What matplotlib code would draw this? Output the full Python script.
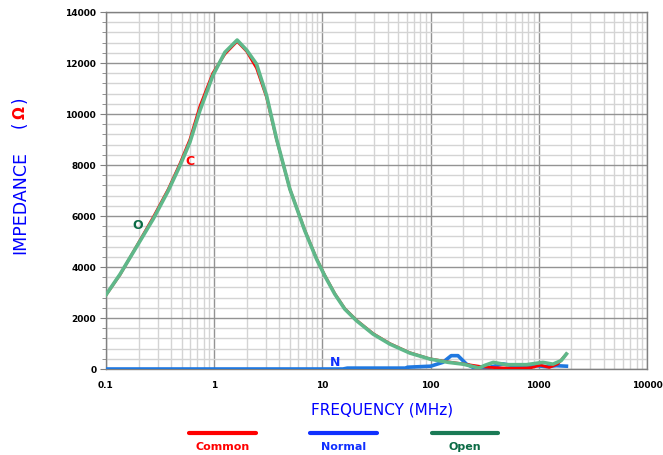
import matplotlib
matplotlib.use('Agg')
import matplotlib.pyplot as plt
from matplotlib.ticker import LogLocator, MultipleLocator, FixedLocator, NullFormatter

# data (MHz, ohm)
freq_open = [0.1, 0.135, 0.203, 0.273, 0.376, 0.482, 0.596, 0.737, 0.97, 1.256, 1.63,
             2.0, 2.46, 3.05, 3.77, 5.0, 6.88, 8.83, 10.5, 13.0, 16.1, 20.6, 29.4,
             41.9, 64.1, 98.2, 145, 200, 280, 320, 380, 500, 770, 1090, 1350, 1610, 1800]
z_open = [2910, 3720, 4970, 5880, 6990, 7970, 8890, 10130, 11500, 12420, 12900,
          12500, 11960, 10720, 9020, 7060, 5420, 4310, 3660, 2940, 2350, 1900, 1370,
          980, 627, 392, 262, 190, 40, 150, 260, 170, 170, 260, 190, 330, 590]

freq_common = [0.1, 0.135, 0.203, 0.273, 0.376, 0.482, 0.596, 0.737, 0.97, 1.256, 1.63,
               2.0, 2.46, 3.05, 3.77, 5.0, 6.88, 8.83, 10.5, 13.0, 16.1, 20.6, 29.4,
               41.9, 64.1, 98.2, 145, 200, 300, 400, 600, 850, 1040, 1250, 1500, 1800]
z_common = [2900, 3700, 5000, 5950, 7050, 8050, 9000, 10300, 11600, 12350, 12850,
            12450, 11800, 10650, 9000, 7060, 5440, 4330, 3680, 2960, 2370, 1920, 1390,
            1000, 640, 400, 280, 200, 90, 50, 30, 50, 150, 60, 200, 590]

freq_normal = [0.1, 1, 10, 15.5, 17, 60, 61, 100, 130, 155, 179, 214, 265, 351,
               466, 665, 948, 1174, 1452, 1800]
z_normal = [0, 0, 0, 0, 35, 35, 70, 110, 262, 523, 523, 196, 0, 65,
            200, 90, 130, 90, 130, 110]

series_names = ['Common', 'Normal', 'Open']

W, H = 663, 456
fig = plt.figure(figsize=(W / 100, H / 100), dpi=100)
ax = fig.add_axes([106 / W, 1 - 370 / H, 541 / W, 357 / H])

ax.plot(freq_normal, z_normal, color='#1f78e0', lw=2.6, zorder=3)
ax.plot(freq_common, z_common, color='#ff0000', lw=2.0, zorder=4)
ax.plot(freq_open, z_open, color='#5fb88a', lw=2.6, zorder=5)

ax.set_xscale('log')
ax.set_xlim(0.1, 10000)
ax.set_ylim(0, 14000)
ax.xaxis.set_major_locator(FixedLocator([0.1, 1, 10, 100, 1000, 10000]))
ax.xaxis.set_minor_locator(LogLocator(base=10, subs=range(2, 10)))
ax.xaxis.set_minor_formatter(NullFormatter())
ax.set_xticklabels(['0.1', '1', '10', '100', '1000', '10000'])
ax.yaxis.set_major_locator(MultipleLocator(2000))
ax.yaxis.set_minor_locator(MultipleLocator(400))

ax.grid(which='major', color='#939393', lw=1.0, zorder=1)
ax.grid(which='minor', color='#d4d4d4', lw=1.0, zorder=0)
ax.set_axisbelow(True)
for s in ax.spines.values():
    s.set_color('#808080')
    s.set_linewidth(1.0)

ax.tick_params(axis='both', which='both', colors='#808080', labelcolor='black',
               labelsize=6.5)
ax.tick_params(axis='x', which='both', length=0, pad=8)
ax.tick_params(axis='y', which='major', length=4, pad=3)
ax.tick_params(axis='y', which='minor', length=3)
for lab in ax.get_xticklabels() + ax.get_yticklabels():
    lab.set_fontweight('bold')

# curve tags
ax.text(0.596, 8160, 'C', color='#ff0000', fontsize=9, fontweight='bold',
        ha='center', va='center')
ax.text(0.197, 5650, 'O', color='#0b6b45', fontsize=9, fontweight='bold',
        ha='center', va='center')
ax.text(13.1, 310, 'N', color='#1030ff', fontsize=9, fontweight='bold',
        ha='center', va='center')

# axis titles
fig.text(382 / W, 1 - 410 / H, 'FREQUENCY (MHz)', color='#0000ff', fontsize=11,
         ha='center', va='center')
fig.text(20 / W, 1 - 203 / H, 'IMPEDANCE', color='#0000ff', fontsize=12.5,
         rotation=90, ha='center', va='center')
fig.text(20 / W, 1 - 125 / H, '(', color='#0000ff', fontsize=12,
         rotation=90, ha='center', va='center')
fig.text(20 / W, 1 - 113 / H, 'Ω', color='#ff0000', fontsize=11, fontweight='bold',
         rotation=90, ha='center', va='center')
fig.text(20 / W, 1 - 100 / H, ')', color='#0000ff', fontsize=12,
         rotation=90, ha='center', va='center')

# legend drawn below the plot
leg_line_colors = ['#ff0000', '#1030ff', '#1a7a55']
leg_text_colors = ['#ff0000', '#1030ff', '#0b6b45']
leg_x = [(189, 256), (310, 377), (432, 498)]
for name, lc, tc, (x0, x1) in zip(series_names, leg_line_colors, leg_text_colors, leg_x):
    fig.add_artist(plt.Line2D([x0 / W, x1 / W], [1 - 434 / H, 1 - 434 / H],
                              color=lc, lw=3, solid_capstyle='round'))
    fig.text((x0 + x1) / 2 / W, 1 - 447 / H, name, color=tc, fontsize=8,
             fontweight='bold', ha='center', va='center')

fig.savefig('out.png', dpi=100)
